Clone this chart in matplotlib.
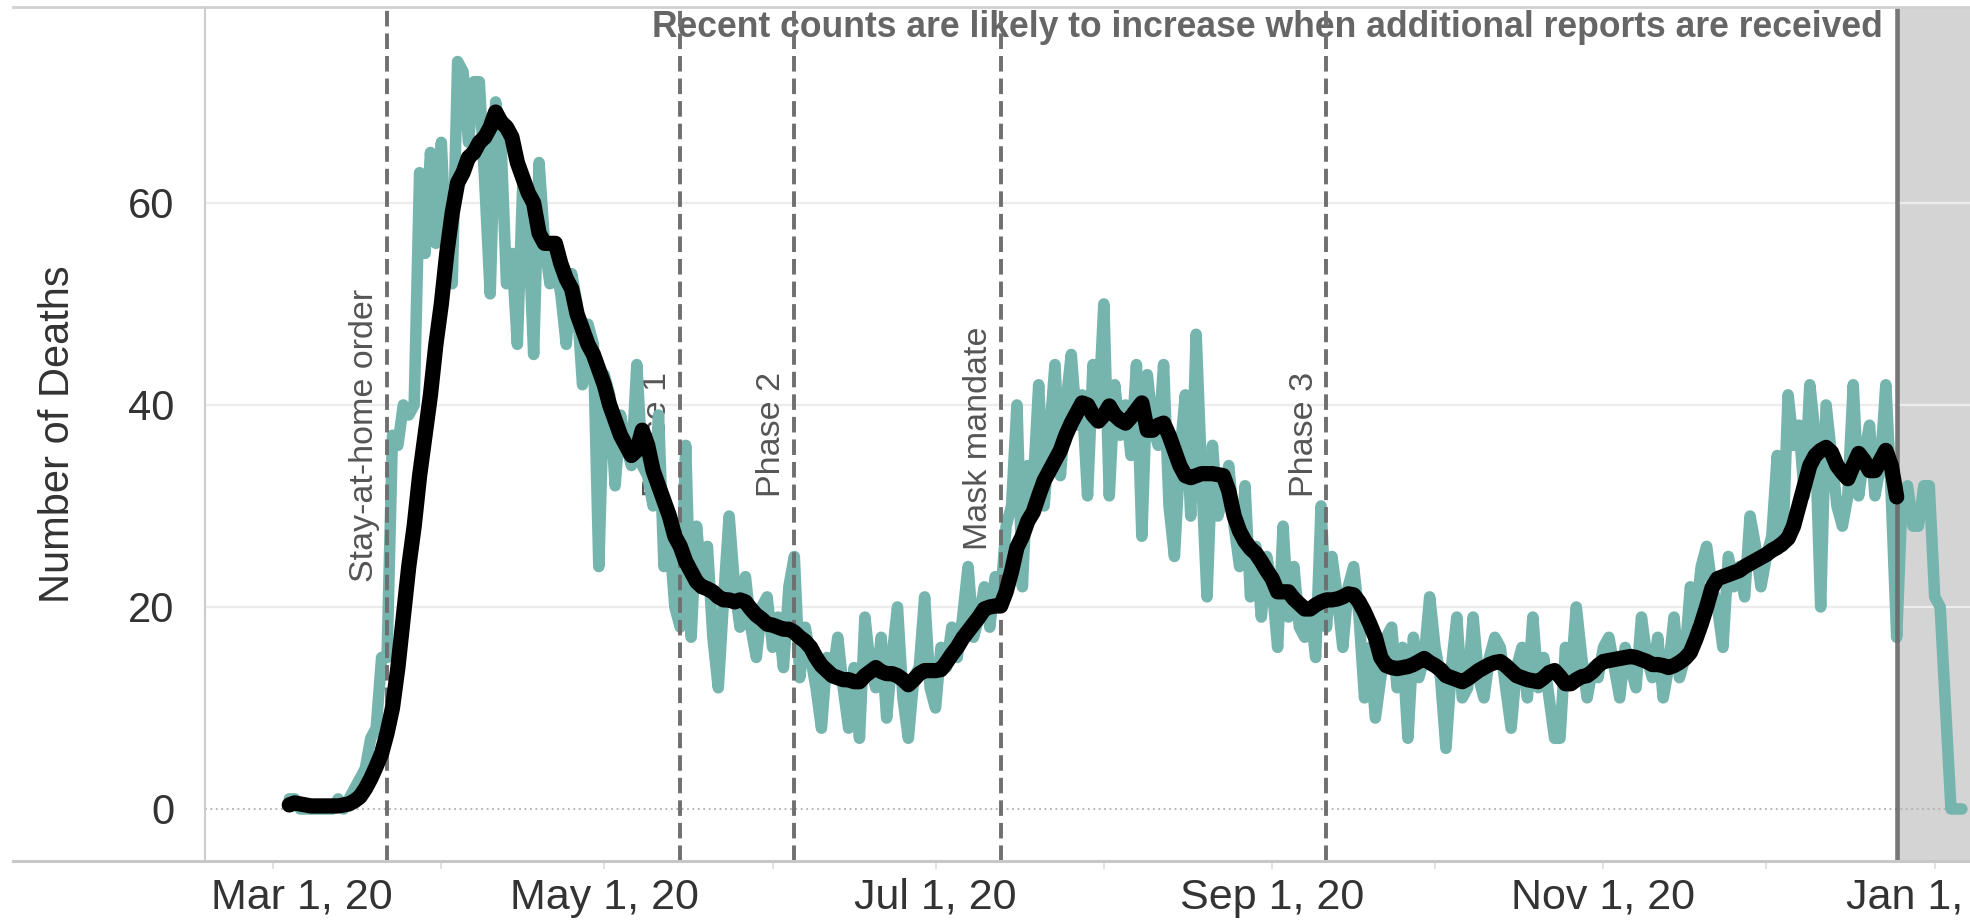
import matplotlib
matplotlib.use('Agg')
import matplotlib.pyplot as plt
import matplotlib.dates as mdates
import matplotlib.transforms as mtransforms
from matplotlib.lines import Line2D
import pandas as pd

plt.rcParams['font.family'] = ['Liberation Sans', 'DejaVu Sans']

# ---------------- data ----------------
start_date = '2020-03-04'

daily_deaths = [
    1, 1, 0, 0, 0, 0, 0,
    0, 0, 1, 0, 1, 2, 3,
    4, 7, 8, 15, 15, 37, 36,
    40, 39, 40, 63, 55, 65, 56,
    66, 54, 52, 74, 73, 66, 72,
    72, 62, 51, 70, 66, 52, 55,
    46, 62, 58, 45, 64, 56, 52,
    54, 51, 46, 53, 50, 42, 48,
    46, 24, 43, 41, 32, 39, 36,
    34, 44, 34, 33, 30, 39, 24,
    27, 20, 18, 36, 17, 28, 22,
    26, 17, 12, 21, 29, 22, 18,
    23, 18, 15, 20, 21, 16, 19,
    14, 22, 25, 13, 18, 15, 12,
    8, 15, 13, 17, 12, 8, 14,
    7, 19, 14, 12, 17, 9, 15,
    20, 11, 7, 13, 14, 21, 12,
    10, 16, 14, 18, 15, 19, 24,
    17, 19, 22, 18, 23, 21, 28,
    30, 40, 22, 34, 32, 42, 30,
    37, 44, 33, 40, 45, 38, 41,
    31, 44, 39, 50, 31, 42, 37,
    40, 35, 44, 27, 43, 38, 36,
    44, 30, 25, 35, 41, 29, 47,
    33, 21, 36, 29, 31, 34, 28,
    24, 32, 21, 26, 19, 25, 22,
    16, 28, 19, 24, 18, 17, 20,
    15, 30, 18, 25, 21, 16, 22,
    24, 19, 11, 16, 9, 13, 17,
    18, 12, 16, 7, 17, 13, 15,
    21, 16, 13, 6, 14, 19, 11,
    12, 19, 13, 11, 15, 17, 16,
    12, 8, 14, 16, 11, 19, 12,
    15, 11, 7, 7, 16, 13, 20,
    15, 11, 14, 13, 16, 17, 14,
    11, 16, 14, 12, 19, 15, 13,
    17, 11, 14, 19, 13, 15, 22,
    19, 24, 26, 22, 20, 16, 25,
    22, 24, 21, 29, 26, 22, 25,
    27, 35, 26, 41, 36, 38, 31,
    42, 37, 20, 40, 35, 30, 28,
    31, 42, 31, 35, 38, 31, 34,
    42, 31, 17, 31, 32, 28, 28,
    32, 32, 21, 20, 10, 0, 0,
    0,
]

avg_deaths = [
    0.4, 0.6, 0.5, 0.4, 0.3, 0.3, 0.3,
    0.3, 0.3, 0.3, 0.4, 0.5, 0.8, 1.2,
    2.0, 3.0, 4.2, 5.5, 7.5, 10, 14,
    19, 24, 28, 33, 37, 41, 46,
    50, 55, 59, 62, 63, 64.5, 65,
    66, 66.5, 67.5, 69, 68, 67.5, 66.5,
    64, 62.5, 61, 60, 57, 56, 56,
    56, 54, 52.5, 51.5, 49, 47.5, 46,
    45, 43.5, 42, 40, 38.5, 37, 36,
    35, 35.5, 37.5, 36, 33.5, 32, 30.5,
    29, 27, 26, 24.5, 23.5, 22.5, 22,
    21.8, 21.5, 21, 20.7, 20.7, 20.5, 20.7,
    20.5, 19.8, 19.2, 18.8, 18.3, 18.2, 18,
    17.8, 17.8, 17.5, 17, 16.6, 16, 15,
    14.2, 13.7, 13.2, 13, 12.8, 12.8, 12.6,
    12.6, 13.2, 13.6, 14, 13.6, 13.4, 13.4,
    13.2, 12.8, 12.3, 12.8, 13.4, 13.7, 13.7,
    13.7, 13.8, 14.5, 15.3, 16, 16.9, 17.6,
    18.3, 19.0, 19.8, 20, 20.1, 20.1, 21.5,
    23.5, 25.9, 27, 28.5, 29.4, 31, 32.5,
    33.5, 34.5, 35.5, 37, 38.2, 39.2, 40.2,
    40, 39, 38.4, 39, 39.9, 39, 38.5,
    38.2, 38.8, 39.5, 40.2, 37.5, 37.5, 38,
    38.2, 37, 35.5, 34, 33, 32.8, 33,
    33.2, 33.2, 33.2, 33.1, 33, 31.5, 29,
    27.5, 26.5, 25.8, 25.3, 24.5, 23.6, 22.8,
    21.5, 21.5, 21.5, 20.8, 20.3, 19.8, 19.8,
    20.2, 20.5, 20.7, 20.7, 20.8, 21, 21.3,
    21.2, 20.5, 19.5, 18.3, 17, 15, 14.2,
    14, 13.9, 14, 14.1, 14.3, 14.6, 14.9,
    14.5, 14.2, 13.8, 13.2, 13, 12.8, 12.6,
    12.9, 13.3, 13.7, 14, 14.3, 14.5, 14.6,
    14.2, 13.7, 13.2, 13, 12.8, 12.7, 12.6,
    13, 13.5, 13.7, 13.1, 12.4, 12.4, 12.8,
    13.1, 13.2, 13.6, 14.2, 14.6, 14.7, 14.8,
    14.9, 15, 15.1, 15, 14.8, 14.6, 14.3,
    14.3, 14.2, 14.0, 14.2, 14.5, 14.9, 15.5,
    16.8, 18.3, 20, 21.9, 22.8, 23, 23.2,
    23.4, 23.6, 24, 24.3, 24.6, 24.9, 25.2,
    25.6, 25.9, 26.3, 26.8, 28, 30, 32,
    34, 35, 35.5, 35.8, 35.3, 34, 33.3,
    32.7, 34, 35.2, 34.5, 33.5, 33.5, 34.5,
    35.5, 34, 30.9,
]

event_dates = ['2020-03-22', '2020-05-15', '2020-06-05', '2020-07-13', '2020-09-11']
event_labels = ['Stay-at-home order', 'Phase 1', 'Phase 2', 'Mask mandate', 'Phase 3']
incomplete_start = '2020-12-25'
note_text = 'Recent counts are likely to increase when additional reports are received'
y_ticks = [0, 20, 40, 60]
y_label = 'Number of Deaths'

# ---------------- layout / style ----------------
W, H, DPI = 1970, 923, 100
label_y_pos = [22.5, 30.9, 30.9, 25.6, 30.9]
TEAL = '#76b5ae'

daily_dates = pd.date_range(start_date, periods=len(daily_deaths), freq='D')
avg_dates = pd.date_range(start_date, periods=len(avg_deaths), freq='D')

fig = plt.figure(figsize=(W / DPI, H / DPI), dpi=DPI)
ax_left, ax_right, ax_top, ax_bot = 205, 1970, 7, 861
ax = fig.add_axes([ax_left / W, (H - ax_bot) / H, (ax_right - ax_left) / W, (ax_bot - ax_top) / H])

mar1 = mdates.date2num(pd.Timestamp('2020-03-01'))
ax.set_xlim(mar1 - 12.52, mar1 + 312.5)
ax.set_ylim(-5.15, 79.4)

# shaded incomplete region
inc = mdates.date2num(pd.Timestamp(incomplete_start))
ax.axvspan(inc, mar1 + 400, color='#d4d4d4', zorder=0.2, lw=0)

# grid
ax.set_axisbelow(True)
for v in y_ticks:
    if v == 0:
        ax.axhline(v, color='#b0b0b0', lw=1.3, ls=(0, (1, 2)), zorder=0.5)
    else:
        ax.axhline(v, color='#ececec', lw=1.6, zorder=0.5)

# data
ax.plot(daily_dates, daily_deaths, color=TEAL, lw=8.3, solid_joinstyle='round',
        solid_capstyle='round', zorder=2)
ax.plot(avg_dates, avg_deaths, color='black', lw=11, solid_joinstyle='round',
        solid_capstyle='round', zorder=4)

# event lines
for d, lab, ly in zip(event_dates, event_labels, label_y_pos):
    x = mdates.date2num(pd.Timestamp(d))
    ax.axvline(x, color='#6f6f6f', lw=2.8, ls=(0, (4.0, 1.8)), zorder=3)
    ax.annotate(lab, xy=(x, ly), xytext=(-5, 0), textcoords='offset points',
                rotation=90, ha='right', va='bottom', fontsize=24.5,
                color='#555555', zorder=1.5)

ax.axvline(inc, color='#6a6a6a', lw=3.3, alpha=0.9, zorder=3.5)

# note text
ax.text(mdates.date2num(pd.Timestamp('2020-12-25')) - 2.5, 77.4, note_text,
        ha='right', va='center', fontsize=25.6, fontweight='bold',
        color='#666666', zorder=1.5)

# axes styling
for s in ['top', 'right', 'bottom']:
    ax.spines[s].set_visible(False)
ax.spines['left'].set_color('#cccccc')
ax.spines['left'].set_linewidth(1.5)

ax.set_yticks(y_ticks)
ax.set_yticklabels([str(v) for v in y_ticks])
ax.tick_params(axis='y', length=0, pad=22, labelsize=30, labelcolor='#333333')

tick_dates = pd.date_range('2020-03-01', '2021-01-01', freq='MS')
tick_labels = [f"{d.strftime('%b')} 1, {d.strftime('%y')}" if i % 2 == 0 else ''
               for i, d in enumerate(tick_dates)]
ax.set_xticks(mdates.date2num(tick_dates))
ax.set_xticklabels(tick_labels)
ax.tick_params(axis='x', length=6, width=1.2, color='#dddddd', pad=6,
               labelsize=31, labelcolor='#333333')
lbl0 = ax.get_xticklabels()[0]
lbl0.set_horizontalalignment('left')
lbl0.set_transform(lbl0.get_transform() +
                   mtransforms.ScaledTranslation(-62 / DPI, 0, fig.dpi_scale_trans))

ax.set_ylabel(y_label, fontsize=30, color='#333333', labelpad=0)
ax.yaxis.set_label_coords(-(ax_left - 78) / (ax_right - ax_left), 0.5)

# frame lines across the full width
fig.add_artist(Line2D([13 / W, 1], [(H - ax_top) / H] * 2, color='#d0d0d0', lw=2.0))
fig.add_artist(Line2D([13 / W, 1], [(H - ax_bot) / H] * 2, color='#c8c8c8', lw=2.2))

fig.savefig('out.png', dpi=DPI, facecolor='white')
